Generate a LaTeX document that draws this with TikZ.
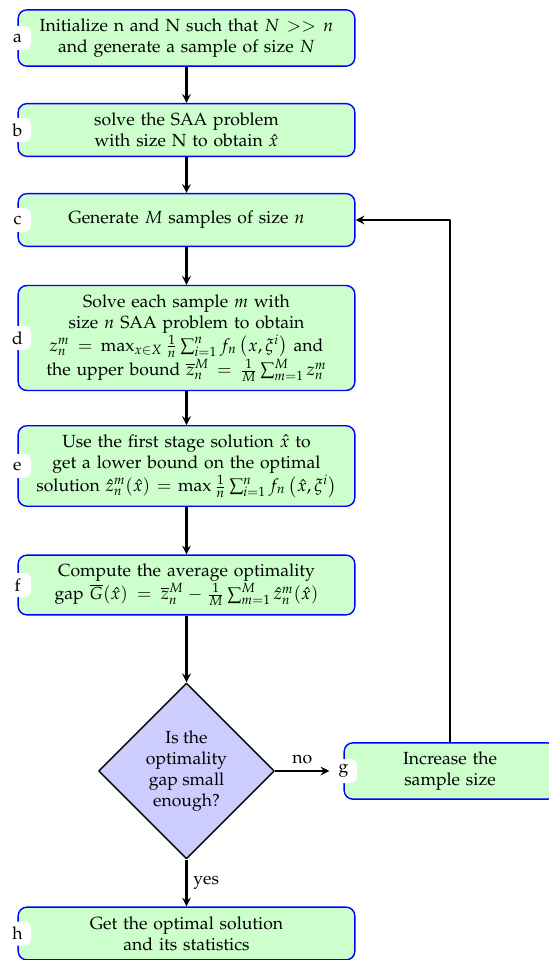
\documentclass[tikz,border=0pt]{standalone}
\usepackage[T1]{fontenc}
\usepackage{mathpazo}
\usetikzlibrary{shapes.geometric}
\begin{document}
\begin{tikzpicture}[line join=round,>=stealth,
		box/.style={draw=blue, thick, fill=green!20, rounded corners=5pt, text width=#1, align=center, inner ysep=5pt, minimum height=3em},
		box/.default=6.5cm,
		lbl/.style={fill=white, rounded corners=4pt, inner sep=1pt, minimum width=.55cm, minimum height=.48cm},
		ask/.style={diamond, draw, thick, fill=blue!20, align=center, inner sep=0pt, minimum width=3.52cm, minimum height=3.52cm},
		flow/.style={->, very thick}]
	\def\xmid{3.73} \def\xg{9}
	\useasboundingbox (0,0) rectangle (10.96,-19.2);
	\node[box] (a) at (\xmid,-.76) {Initialize n and N such that $N >> n$\\ and generate a sample of size $N$};
	\node[box] (b) at (\xmid,-2.6) {solve the SAA problem\\ with size N to obtain $\hat{x}$};
	\node[box] (c) at (\xmid,-4.4) {Generate $M$ samples of size $n$};
	\node[box] (d) at (\xmid,-6.76) {Solve each sample $m$ with\\ size $n$ SAA problem to obtain\\ $z_n^m = \max_{x\in X} \frac{1}{n}\sum_{i=1}^n f_n\left(x,\xi^i\right)$ and\\ the upper bound $\overline{z}_n^M = \frac{1}{M}\sum_{m=1}^M z_n^m$};
	\node[box] (e) at (\xmid,-9.32) {Use the first stage solution $\hat{x}$ to\\ get a lower bound on the optimal\\ solution $\hat{z}_n^m(\hat{x}) = \max \frac{1}{n}\sum_{i=1}^n f_n\left(\hat{x},\xi^i\right)$};
	\node[box] (f) at (\xmid,-11.7) {Compute the average optimality\\ gap $\overline{G}(\hat{x}) = \overline{z}_n^M - \frac{1}{M}\sum_{m=1}^M \hat{z}_n^m(\hat{x})$};
	\node[ask] (q) at (\xmid,-15.42) {Is the\\ optimality\\ gap small\\ enough?};
	\node[box=4cm] (g) at (\xg,-15.42) {Increase the\\ sample size};
	\node[box] (h) at (\xmid,-18.67) {Get the optimal solution\\ and its statistics};
	% letters on the left side
	\foreach \n in {a,...,h}
		\node[lbl] (l\n) at (\n.west) {\n};
	\draw[flow] (a) -- (b);
	\draw[flow] (b) -- (c);
	\draw[flow] (c) -- (d);
	\draw[flow] (d) -- (e);
	\draw[flow] (e) -- (f);
	\draw[flow] (f) -- (q);
	\draw[flow] (q) -- node[above]{no} (lg);
	\draw[flow] (q) -- node[right]{yes} (h);
	\draw[flow] (g.north) |- (c.east);
\end{tikzpicture}
\end{document}
